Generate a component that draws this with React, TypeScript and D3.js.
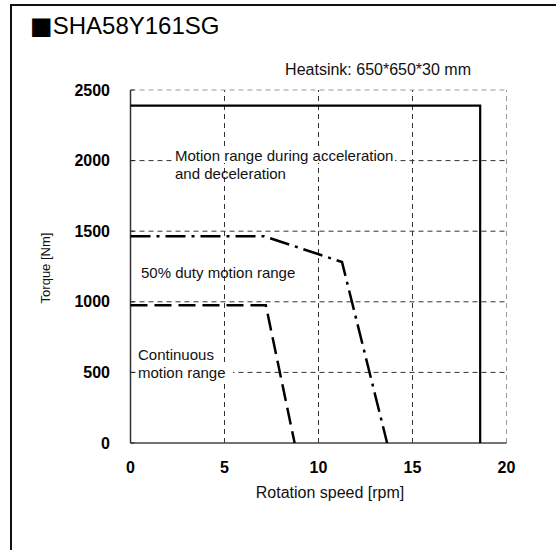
import React from 'react';
import * as d3 from 'd3';

// curve points: [rpm, Nm]
const accelCurve: [number, number][] = [[0, 2390], [18.6, 2390], [18.6, 0]];
const dutyCurve: [number, number][] = [[0, 1465], [7.1, 1465], [11.25, 1282], [13.65, 0]];
const contCurve: [number, number][] = [[0, 975], [7.2, 975], [8.73, 0]];

const xTicks = [0, 5, 10, 15, 20];
const yTicks = [0, 500, 1000, 1500, 2000, 2500];

const W = 556;
const H = 550;
const font = '"Liberation Sans", Arial, sans-serif';

export default function App() {
  const x = d3.scaleLinear().domain([0, 20]).range([130.5, 506.5]);
  const y = d3.scaleLinear().domain([0, 2500]).range([443, 90]);
  const line = d3.line<[number, number]>().x(d => x(d[0])).y(d => y(d[1]));

  return (
    <svg width={W} height={H} style={{ position: 'absolute', left: 0, top: 0, background: '#fff' }}
      fontFamily={font}>
      {/* frame */}
      <path d={`M11,${H + 5} V5 H${W + 5}`} fill="none" stroke="#111" strokeWidth={2} />
      <text x={30} y={34} fontSize={24} fill="#000">
        <tspan fontFamily='"DejaVu Sans"'>■</tspan>SHA58Y161SG
      </text>
      <text x={471} y={69} dy="0.35em" fontSize={16} textAnchor="end" fill="#111">Heatsink: 650*650*30 mm</text>

      {/* grid */}
      {xTicks.slice(1).map(t => (
        <line key={'gx' + t} x1={x(t)} x2={x(t)} y1={y(0)} y2={y(2500)}
          stroke={t === 20 ? '#999' : '#333'} strokeWidth={1} strokeDasharray="5,4" />
      ))}
      {yTicks.slice(1).map(t => (
        <line key={'gy' + t} x1={x(0)} x2={x(20)} y1={y(t)} y2={y(t)}
          stroke={t === 2500 ? '#999' : '#333'} strokeWidth={1} strokeDasharray="5,4" />
      ))}
      {/* axes */}
      <line x1={x(0)} x2={x(0)} y1={y(0)} y2={y(2500)} stroke="#333" strokeWidth={1.5} />
      <line x1={x(0)} x2={x(20)} y1={y(0)} y2={y(0)} stroke="#444" strokeWidth={1.5} />
      {yTicks.map(t => (
        <line key={'ty' + t} x1={x(0)} x2={x(0) + 4} y1={y(t)} y2={y(t)} stroke="#222" strokeWidth={1} />
      ))}

      {/* tick labels */}
      {yTicks.map(t => (
        <text key={'ly' + t} x={110} y={y(t)} dy="0.35em" textAnchor="end" fontSize={16}
          fontWeight="bold" fill="#000">{t}</text>
      ))}
      {xTicks.map(t => (
        <text key={'lx' + t} x={x(t)} y={467} dy="0.35em" textAnchor="middle" fontSize={16}
          fontWeight="bold" fill="#000">{t}</text>
      ))}
      <text x={330} y={492} dy="0.35em" textAnchor="middle" fontSize={16} fill="#111">Rotation speed [rpm]</text>
      <text transform="translate(45,268) rotate(-90)" dy="0.35em" textAnchor="middle" fontSize={13}
        fill="#111">Torque [Nm]</text>

      {/* curves */}
      <path d={line(accelCurve) ?? ''} fill="none" stroke="#000" strokeWidth={2.2} />
      <path d={line(dutyCurve) ?? ''} fill="none" stroke="#000" strokeWidth={2.5}
        strokeDasharray="20,6,3,6" />
      <path d={line(contCurve) ?? ''} fill="none" stroke="#000" strokeWidth={2.5}
        strokeDasharray="17,7" />

      {/* annotations */}
      <rect x={173} y={147} width={222} height={16} fill="#fff" />
      <text x={175} y={156} dy="0.35em" fontSize={15} fill="#111">Motion range during acceleration</text>
      <text x={175} y={174} dy="0.35em" fontSize={15} fill="#111">and deceleration</text>
      <text x={141} y={273} dy="0.35em" fontSize={15} fill="#111">50% duty motion range</text>
      <rect x={137} y={365} width={96} height={16} fill="#fff" />
      <text x={138} y={355} dy="0.35em" fontSize={15} fill="#111">Continuous</text>
      <text x={138} y={373} dy="0.35em" fontSize={15} fill="#111">motion range</text>
    </svg>
  );
}
